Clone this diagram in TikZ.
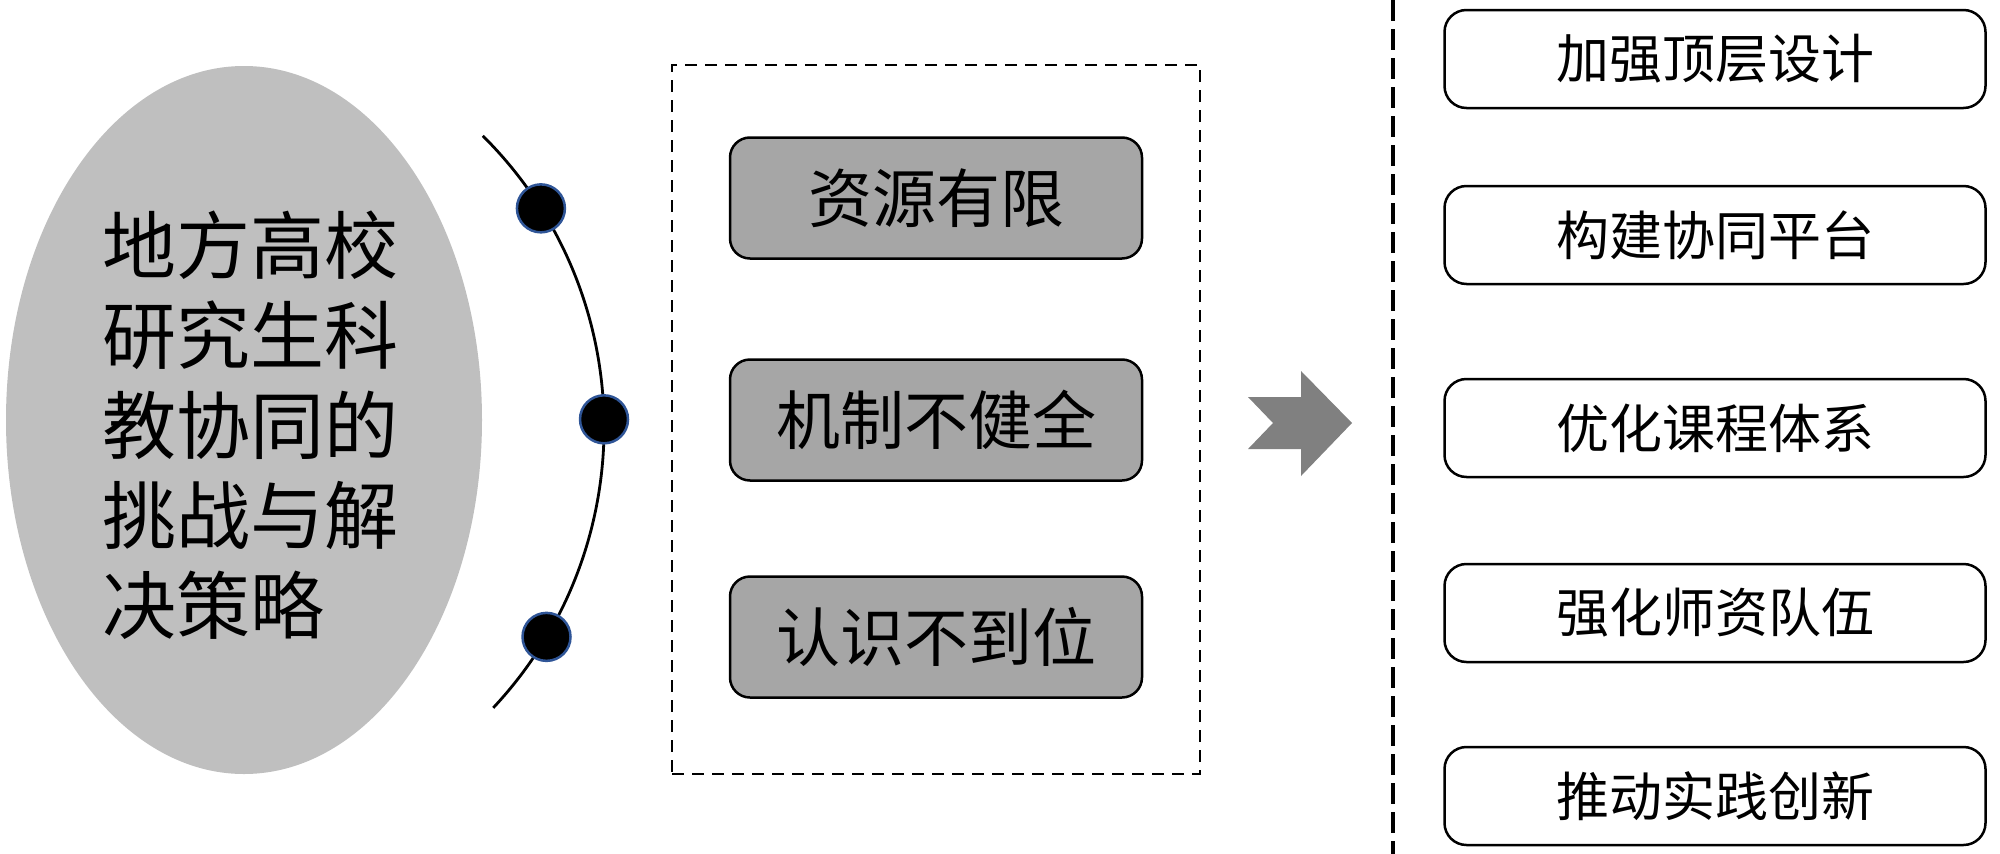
\documentclass[tikz,border=0pt]{standalone}
\usepackage{fontspec}
\setmainfont{Noto Sans CJK SC}
\usetikzlibrary{shapes.geometric,calc}
\definecolor{ellgray}{RGB}{191,191,191}
\definecolor{boxgray}{RGB}{166,166,166}
\definecolor{arrgray}{RGB}{128,128,128}
\definecolor{beadblue}{RGB}{47,85,151}
\begin{document}
\begin{tikzpicture}[x=1pt,y=-1pt,
  problem/.style={draw=black, line width=2.5pt, fill=boxgray, rounded corners=20pt,
    minimum width=412pt, minimum height=121pt, inner sep=0pt,
    font=\fontsize{64pt}{70pt}\selectfont},
  solution/.style={draw=black, line width=2.5pt, fill=white, rounded corners=22pt,
    minimum width=541pt, minimum height=98pt, inner sep=0pt,
    font=\fontsize{53pt}{60pt}\selectfont},
  bead/.style={circle, draw=beadblue, line width=2.5pt, fill=black,
    minimum size=48pt, inner sep=0pt},
  framebox/.style={draw=black, line width=2.5pt, dash pattern=on 12pt off 8pt,
    minimum width=528pt, minimum height=709pt, inner sep=0pt},
  divider/.style={draw=black, line width=3.5pt, dash pattern=on 21pt off 8pt}]
\useasboundingbox (0,0) rectangle (2000,854);
% topic ellipse
\node[ellipse, fill=ellgray, minimum width=476pt, minimum height=708pt, inner sep=0pt] (topic) at (244,420) {};
\node[anchor=west, align=left, inner sep=0pt, font=\fontsize{74pt}{90pt}\selectfont] (title) at (102,425)
  {地方高校\\研究生科\\教协同的\\挑战与解\\决策略};
% arc with beads
\coordinate (arcc) at (193.4,427.2);
\draw[line width=2.8pt] (arcc) ++(-45.2:410.7) arc[start angle=-45.2, end angle=43.1, radius=410.7];
\node[bead] (b1) at ($(arcc)+(-32.2:410.7)$) {};
\node[bead] (b2) at ($(arcc)+(-1.1:410.7)$) {};
\node[bead] (b3) at ($(arcc)+(30.7:410.7)$) {};
% problems
\node[framebox] (frame) at (936,419.5) {};
\node[problem] (p1) at (936,198) {资源有限};
\node[problem] (p2) at (936,420) {机制不健全};
\node[problem] (p3) at (936,637) {认识不到位};
% arrow
\fill[arrgray] (1248,397) -- (1301,397) -- (1301,371) -- (1352,423) -- (1301,476)
  -- (1301,449) -- (1248,449) -- (1273,423) -- cycle;
% divider
\coordinate (dtop) at (1393,0);
\coordinate (dbot) at (1393,854);
\draw[divider] (dtop) -- (dbot);
% solutions
\node[solution] (s1) at (1715,59) {加强顶层设计};
\node[solution] (s2) at (1715,235) {构建协同平台};
\node[solution] (s3) at (1715,428) {优化课程体系};
\node[solution] (s4) at (1715,613) {强化师资队伍};
\node[solution] (s5) at (1715,796) {推动实践创新};
\end{tikzpicture}
\end{document}
